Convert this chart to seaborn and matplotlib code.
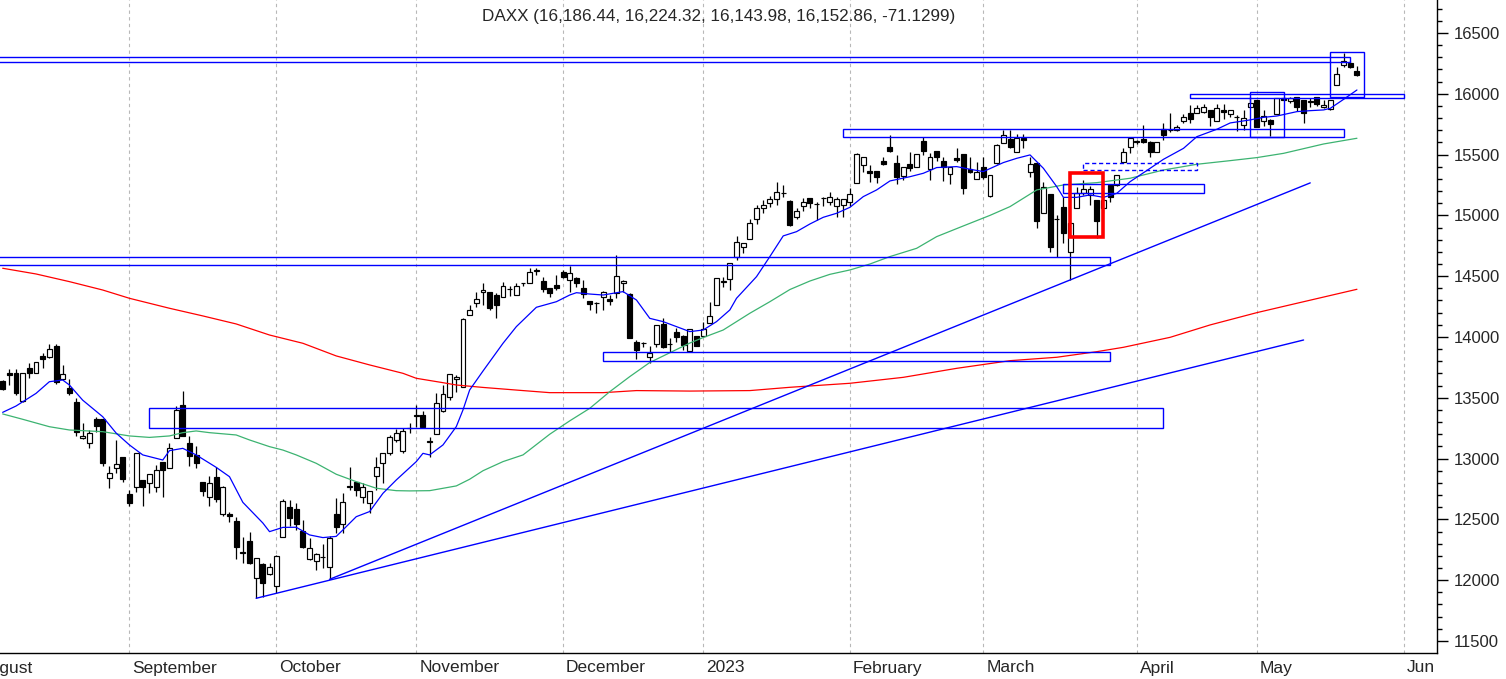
import matplotlib
matplotlib.use("Agg")
import matplotlib.pyplot as plt
from matplotlib.patches import Rectangle
from matplotlib.ticker import MultipleLocator, FixedLocator, FuncFormatter
import numpy as np
import pandas as pd
import seaborn as sns

# daily candles, 2022-08-05 .. 2023-05-23
open_ = [13638, 13701, 13701, 13476, 13742, 13701, 13843, 13838, 13926, 13651,
         13577, 13468, 13167, 13125, 13323, 13323, 12837, 12920, 13010, 12709,
         12763, 12824, 12796, 12763, 12969, 12920, 13166, 13440, 13125, 13030,
         12805, 12681, 12846, 12544, 12540, 12489, 12230, 12322, 12015, 12130,
         12051, 11952, 12352, 12605, 12585, 12405, 12172, 12158, 12190, 12111,
         12544, 12459, 12771, 12805, 12681, 12638, 12860, 12961, 13043, 13153,
         13065, 13249, 13353, 13358, 13139, 13200, 13394, 13504, 13652, 13592,
         14181, 14282, 14373, 14373, 14345, 14326, 14392, 14345, 14441, 14447,
         14545, 14460, 14400, 14427, 14537, 14469, 14482, 14400, 14296, 14277,
         14326, 14310, 14359, 14446, 14351, 13962, 13948, 13833, 13940, 14104,
         13942, 14044, 14008, 13887, 14008, 14008, 14112, 14263, 14455, 14474,
         14655, 14743, 14803, 14968, 15058, 15105, 15132, 15181, 15121, 14989,
         15077, 15140, 15094, 15140, 15113, 15077, 15085, 15113, 15269, 15414,
         15365, 15365, 15447, 15565, 15428, 15324, 15423, 15401, 15612, 15379,
         15530, 15450, 15340, 15469, 15505, 15379, 15297, 15395, 15160, 15434,
         15598, 15626, 15524, 15634, 15360, 15434, 15017, 15176, 14968, 15066,
         14702, 15058, 15181, 15168, 15127, 15060, 15250, 15250, 15436, 15560,
         15615, 15626, 15606, 15524, 15708, 15702, 15700, 15779, 15839, 15845,
         15853, 15867, 15779, 15867, 15834, 15806, 15743, 15889, 15949, 15779,
         15784, 15834, 15962, 15943, 15971, 15949, 15935, 15971, 15889, 15872,
         16072, 16237, 16250, 16186.44]
high = [13646, 13734, 13734, 13706, 13783, 13797, 13865, 13942, 13942, 13769,
        13651, 13495, 13290, 13235, 13339, 13323, 12939, 13152, 13010, 12742,
        13043, 12824, 12873, 12947, 12975, 13125, 13432, 13556, 13186, 13103,
        12805, 12857, 12928, 12774, 12560, 12522, 12352, 12399, 12180, 12139,
        12139, 12207, 12665, 12660, 12632, 12495, 12344, 12227, 12295, 12364,
        12673, 12714, 12933, 12805, 12797, 12734, 13016, 13043, 13194, 13241,
        13249, 13295, 13441, 13394, 13180, 13537, 13605, 13693, 13688, 14153,
        14263, 14373, 14441, 14373, 14359, 14455, 14419, 14441, 14447, 14564,
        14564, 14496, 14400, 14510, 14551, 14584, 14496, 14469, 14296, 14290,
        14380, 14345, 14674, 14469, 14359, 13975, 13962, 13926, 14099, 14153,
        13989, 14071, 14016, 14063, 14008, 14126, 14290, 14482, 14496, 14606,
        14830, 14776, 14967, 15085, 15127, 15159, 15277, 15250, 15127, 15058,
        15140, 15140, 15113, 15154, 15195, 15154, 15132, 15223, 15510, 15483,
        15414, 15365, 15483, 15661, 15496, 15395, 15524, 15505, 15642, 15510,
        15530, 15477, 15395, 15551, 15505, 15477, 15442, 15477, 15332, 15587,
        15702, 15702, 15669, 15669, 15483, 15434, 15277, 15176, 15003, 15148,
        14935, 15236, 15291, 15242, 15127, 15210, 15250, 15332, 15552, 15634,
        15620, 15743, 15615, 15601, 15757, 15839, 15745, 15834, 15908, 15908,
        15916, 15867, 15916, 15916, 15867, 15826, 15867, 15971, 15949, 15867,
        15790, 15962, 15971, 15971, 15971, 15949, 15962, 15971, 15949, 15949,
        16223, 16333, 16272, 16224.32]
low = [13564, 13605, 13523, 13468, 13660, 13701, 13742, 13824, 13613, 13646,
       13523, 13186, 13158, 13084, 13221, 12939, 12755, 12884, 12810, 12610,
       12728, 12613, 12714, 12728, 12687, 12920, 13166, 13186, 12942, 12920,
       12692, 12610, 12646, 12528, 12480, 12172, 12139, 12133, 11851, 11864,
       12042, 11892, 12352, 12446, 12413, 12262, 12166, 12084, 12098, 12007,
       12385, 12385, 12742, 12693, 12638, 12555, 12742, 12797, 13029, 13139,
       13043, 13208, 13263, 13249, 13016, 13200, 13386, 13482, 13550, 13592,
       14181, 14250, 14263, 14222, 14153, 14326, 14337, 14345, 14419, 14447,
       14510, 14373, 14326, 14386, 14482, 14373, 14414, 14318, 14222, 14200,
       14222, 14263, 14318, 14373, 13989, 13816, 13920, 13789, 13920, 13906,
       13879, 13962, 13893, 13879, 13926, 14008, 14112, 14263, 14414, 14387,
       14633, 14693, 14803, 14929, 15017, 15066, 15085, 15148, 14913, 14967,
       15039, 15058, 14962, 15077, 15085, 14989, 14989, 15077, 15269, 15360,
       15277, 15269, 15414, 15524, 15258, 15291, 15368, 15401, 15497, 15291,
       15450, 15286, 15258, 15442, 15176, 15350, 15297, 15297, 15154, 15423,
       15593, 15552, 15524, 15552, 15319, 14894, 15017, 14702, 14661, 14776,
       14469, 15058, 15168, 15086, 14811, 15017, 15113, 15242, 15433, 15510,
       15590, 15593, 15483, 15524, 15620, 15689, 15690, 15762, 15757, 15840,
       15839, 15735, 15779, 15790, 15812, 15697, 15702, 15889, 15724, 15735,
       15653, 15834, 15945, 15921, 15861, 15757, 15894, 15899, 15880, 15866,
       16072, 16223, 16210, 16143.98]
close = [13572, 13684, 13536, 13701, 13701, 13791, 13816, 13898, 13632, 13692,
         13542, 13221, 13186, 13207, 13268, 12966, 12878, 12953, 12829, 12632,
         13043, 12763, 12873, 12906, 12906, 13084, 13400, 13186, 13024, 12961,
         12736, 12796, 12665, 12763, 12528, 12276, 12227, 12139, 12180, 11974,
         12106, 12202, 12654, 12514, 12465, 12270, 12262, 12213, 12188, 12344,
         12435, 12646, 12768, 12742, 12763, 12734, 12928, 13043, 13180, 13208,
         13230, 13252, 13355, 13263, 13141, 13455, 13528, 13693, 13674, 14148,
         14222, 14310, 14385, 14235, 14263, 14422, 14394, 14419, 14443, 14534,
         14547, 14392, 14364, 14400, 14490, 14523, 14447, 14353, 14269, 14279,
         14367, 14299, 14502, 14460, 13989, 13893, 13950, 13871, 14099, 13920,
         13944, 14003, 13934, 14063, 13926, 14063, 14173, 14482, 14457, 14606,
         14784, 14770, 14940, 15058, 15085, 15132, 15195, 15183, 14921, 15036,
         15113, 15099, 15096, 15142, 15154, 15132, 15132, 15176, 15505, 15483,
         15346, 15318, 15420, 15532, 15313, 15395, 15387, 15505, 15532, 15478,
         15483, 15401, 15395, 15455, 15222, 15357, 15360, 15313, 15332, 15579,
         15661, 15565, 15634, 15620, 15423, 14957, 15236, 14737, 14970, 14853,
         14935, 15187, 15214, 15214, 14957, 15130, 15148, 15332, 15519, 15634,
         15605, 15606, 15524, 15601, 15661, 15704, 15725, 15808, 15790, 15880,
         15888, 15806, 15880, 15853, 15867, 15808, 15798, 15927, 15730, 15817,
         15752, 15962, 15949, 15962, 15894, 15845, 15937, 15916, 15908, 15949,
         16163, 16272, 16224, 16152.86]

# moving averages as drawn on the chart: (trading day, value)
blue_ma = [(0, 13380), (2, 13432), (5, 13536), (7, 13632), (9, 13646), (10, 13605),
           (12, 13480), (15, 13344), (17, 13210), (19, 13112), (21, 13030), (24, 12988),
           (25, 13065), (27, 13084), (29, 13030), (32, 12928), (34, 12851), (36, 12640),
           (39, 12470), (40, 12399), (42, 12434), (44, 12435), (46, 12372), (48, 12350),
           (50, 12360), (51, 12413), (53, 12522), (55, 12564), (57, 12714), (59, 12824),
           (62, 12975), (63, 13043), (64, 13030), (66, 13112), (68, 13263), (69, 13400),
           (70, 13564), (72, 13720), (75, 13948), (77, 14085), (80, 14244), (83, 14290),
           (85, 14345), (86, 14364), (88, 14353), (90, 14345), (93, 14373), (95, 14304),
           (97, 14153), (99, 14126), (101, 14085), (103, 14044), (105, 14057), (107, 14126),
           (109, 14222), (110, 14318), (113, 14496), (115, 14661), (117, 14831), (119, 14866),
           (121, 14929), (123, 14984), (125, 15017), (127, 15066), (129, 15154), (131, 15209),
           (133, 15283), (136, 15318), (138, 15346), (140, 15393), (143, 15401), (145, 15379),
           (147, 15360), (150, 15434), (152, 15469), (154, 15497), (156, 15387), (158, 15236),
           (159, 15148), (161, 15148), (163, 15168), (165, 15148), (167, 15181), (169, 15277),
           (172, 15387), (174, 15461), (177, 15551), (179, 15647), (182, 15708), (184, 15760),
           (187, 15785), (189, 15806), (191, 15817), (194, 15853), (196, 15861), (198, 15867),
           (199, 15880), (201, 15954), (203, 16031)]
green_ma = [(0, 13367), (3, 13323), (7, 13262), (10, 13235), (15, 13221), (19, 13186),
            (22, 13174), (25, 13186), (27, 13213), (29, 13227), (31, 13213), (35, 13194),
            (37, 13153), (40, 13098), (42, 13070), (44, 13030), (47, 12961), (50, 12871),
            (53, 12810), (56, 12756), (59, 12736), (61, 12734), (64, 12736), (68, 12775),
            (70, 12830), (72, 12900), (75, 12975), (78, 13030), (82, 13200), (85, 13310),
            (88, 13413), (91, 13550), (94, 13674), (97, 13790), (100, 13870), (103, 13950),
            (105, 13995), (108, 14057), (112, 14195), (115, 14290), (118, 14390), (121, 14460),
            (124, 14515), (127, 14551), (130, 14600), (133, 14661), (137, 14729), (140, 14825),
            (144, 14913), (148, 15000), (151, 15072), (155, 15209), (159, 15250), (164, 15269),
            (169, 15305), (174, 15373), (179, 15420), (184, 15450), (188, 15475), (192, 15510),
            (198, 15587), (203, 15634)]
red_ma = [(0, 14565), (5, 14518), (10, 14455), (15, 14386), (19, 14318), (25, 14236),
          (30, 14173), (35, 14107), (40, 14016), (45, 13948), (50, 13844), (55, 13770),
          (60, 13701), (62, 13660), (66, 13624), (68, 13605), (72, 13585), (78, 13559),
          (82, 13542), (90, 13542), (95, 13559), (103, 13555), (112, 13559), (118, 13586),
          (127, 13619), (135, 13668), (143, 13742), (151, 13805), (158, 13833), (164, 13879),
          (168, 13915), (175, 13997), (181, 14099), (188, 14200), (194, 14277), (203, 14392)]

# drawn objects: price zones (from day, to day, low, high)
zone_from = [-5, -5, 90, 22, 126, 159, 178, 187, 199]
zone_to = [202, 166, 166, 174, 201, 180, 210, 192, 204]
zone_low = [16265, 14590, 13803, 13249, 15647, 15182, 15966, 15647, 15971]
zone_high = [16300, 14655, 13874, 13414, 15708, 15258, 15998, 16012, 16341]
dashed_zone = [162, 179, 15373, 15428]
red_zone = [160, 165, 14825, 15346]
trend_a = [(49, 12007), (196, 15267)]
trend_b = [(38, 11851), (195, 13975)]

title = "DAXX (16,186.44, 16,224.32, 16,143.98, 16,152.86, -71.1299)"
first_day = "2022-08-05"
holidays = ["2022-12-26", "2023-04-07", "2023-04-10", "2023-05-01"]
short_names = {"June": "Jun"}

sns.set_style("white")
plt.rcParams["font.family"] = ["Liberation Sans", "DejaVu Sans"]

# trading calendar, a bit wider than the data so August and June fit
days = pd.bdate_range("2022-08-01", "2023-06-09")
days = days[~days.isin(pd.to_datetime(holidays))]
pos = np.arange(len(days)) - days.get_loc(pd.Timestamp(first_day))
month_start = np.r_[True, days.month[1:] != days.month[:-1]]
week_start = np.r_[True, np.diff(days.weekday) < 0]
month_pos = pos[month_start]
month_names = []
for d in days[month_start]:
    name = ("%d" % d.year) if d.month == 1 else d.strftime("%B")
    month_names.append(short_names.get(name, name))

fig = plt.figure(figsize=(15.06, 6.79), dpi=100)
ax = fig.add_axes([0, 26 / 679, 1437 / 1506, 653 / 679])

# month grid
ax.vlines(month_pos, 11000, 17000, color="#b8b8b8", linewidth=0.8,
          linestyles=(0, (3, 3)), zorder=0)

# candles
o, h, l, c = (np.array(v, dtype=float) for v in (open_, high, low, close))
x = np.arange(len(c))
ax.vlines(x, l, h, color="black", linewidth=0.9, zorder=2)
ax.bar(x, np.abs(c - o), bottom=np.minimum(o, c), width=0.74,
       color=["white" if up else "black" for up in c >= o],
       edgecolor="black", linewidth=0.85, zorder=3)

# moving averages
for ma, col in [(red_ma, "#ff0000"), (green_ma, "#3cb371"), (blue_ma, "#0000ff")]:
    mx, my = zip(*ma)
    sns.lineplot(x=list(mx), y=list(my), color=col, linewidth=0.9, ax=ax, zorder=4)

# zones and trend lines
for x0, x1, y0, y1 in zip(zone_from, zone_to, zone_low, zone_high):
    ax.add_patch(Rectangle((x0, y0), x1 - x0, y1 - y0, fill=False,
                           edgecolor="#0000ff", linewidth=1.0, zorder=5))
ax.add_patch(Rectangle((dashed_zone[0], dashed_zone[2]), dashed_zone[1] - dashed_zone[0],
                       dashed_zone[3] - dashed_zone[2], fill=False, edgecolor="#0000ff",
                       linewidth=1.0, linestyle=(0, (3, 2)), zorder=5))
ax.add_patch(Rectangle((red_zone[0], red_zone[2]), red_zone[1] - red_zone[0],
                       red_zone[3] - red_zone[2], fill=False, edgecolor="#ff0000",
                       linewidth=2.6, zorder=6))
for line in (trend_a, trend_b):
    tx, ty = zip(*line)
    ax.plot(tx, ty, color="#0000ff", linewidth=1.0, zorder=5)

ax.set_xlim(-0.4, 215.0)
ax.set_ylim(11401, 16771)

for side in ("top", "left"):
    ax.spines[side].set_visible(False)
for side in ("right", "bottom"):
    ax.spines[side].set_color("black")
    ax.spines[side].set_linewidth(1.0)

ax.xaxis.set_major_locator(FixedLocator(month_pos))
ax.xaxis.set_minor_locator(FixedLocator(pos[week_start]))
ax.set_xticklabels([])
ax.tick_params(axis="x", which="major", length=19, width=1, color="black", direction="out")
ax.tick_params(axis="x", which="minor", length=3, width=1, color="black", direction="out")
for mp, name in zip(month_pos, month_names):
    ax.annotate(name, xy=(mp, 0), xycoords=("data", "axes fraction"),
                xytext=(3, -15), textcoords="offset pixels", ha="left", va="center",
                fontsize=12.5, annotation_clip=False)

ax.yaxis.tick_right()
ax.yaxis.set_major_locator(MultipleLocator(500))
ax.yaxis.set_minor_locator(MultipleLocator(100))
ax.yaxis.set_major_formatter(FuncFormatter(lambda v, p: "%d" % v))
ax.tick_params(axis="y", which="major", length=8, width=1, color="black",
               direction="out", pad=4, labelsize=12)
ax.tick_params(axis="y", which="minor", length=3.5, width=1, color="black", direction="out")
ax.set_xlabel("")
ax.set_ylabel("")

ax.text(0.5, 1 - 16 / 653, title, transform=ax.transAxes, ha="center", va="center",
        fontsize=12.3)

fig.savefig("out.png", dpi=100)
